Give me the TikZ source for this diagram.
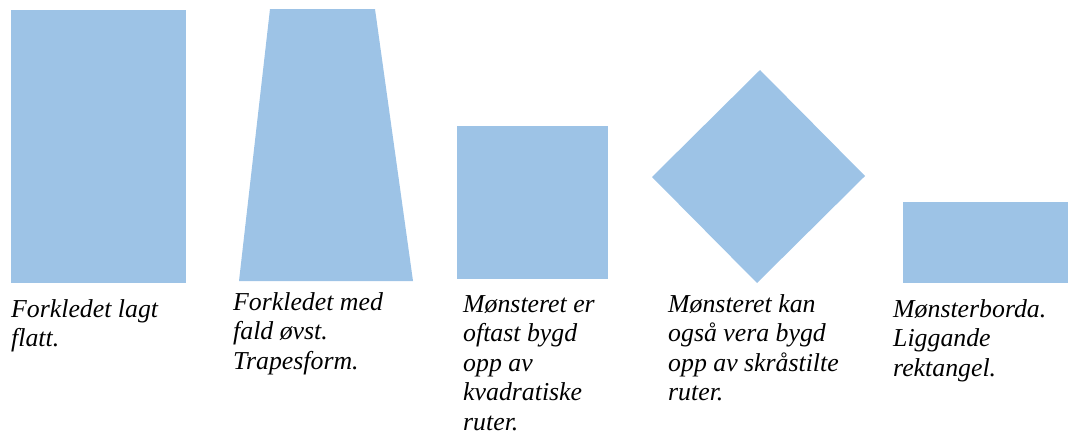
\documentclass[tikz,border=0pt]{standalone}
\usepackage{fontspec}
\setmainfont{Liberation Serif}[ItalicFont={Liberation Serif Italic}]
\definecolor{shapeblue}{HTML}{9DC3E6}
\begin{document}
\begin{tikzpicture}[x=1pt,y=-1pt,
  shp/.style={fill=shapeblue,draw=none},
  captxt/.style={anchor=base west,inner sep=0pt,align=left,font=\rmfamily\itshape\fontsize{25.8}{29.5}\selectfont}]
\useasboundingbox (0,0) rectangle (1068,437);
\path[shp] (11,10) rectangle (186,283);
\path[shp] (270,9) -- (375,9) -- (413,281) -- (239,281) -- cycle;
\path[shp] (457,126) rectangle (608,279);
\path[shp] (760,70) -- (865,176) -- (757,283) -- (652,177) -- cycle;
\path[shp] (903,202) rectangle (1068,283);
\node[captxt] (t1) at (11,346.5) {Forkledet lagt\\flatt.};
\node[captxt] (t2) at (233,369) {Forkledet med\\fald øvst.\\Trapesform.};
\node[captxt] (t3) at (463,430) {Mønsteret er\\oftast bygd\\opp av\\kvadratiske\\ruter.};
\node[captxt] (t4) at (668,400.5) {Mønsteret kan\\også vera bygd\\opp av skråstilte\\ruter.};
\node[captxt] (t5) at (893,376) {Mønsterborda.\\Liggande\\rektangel.};
\end{tikzpicture}
\end{document}
